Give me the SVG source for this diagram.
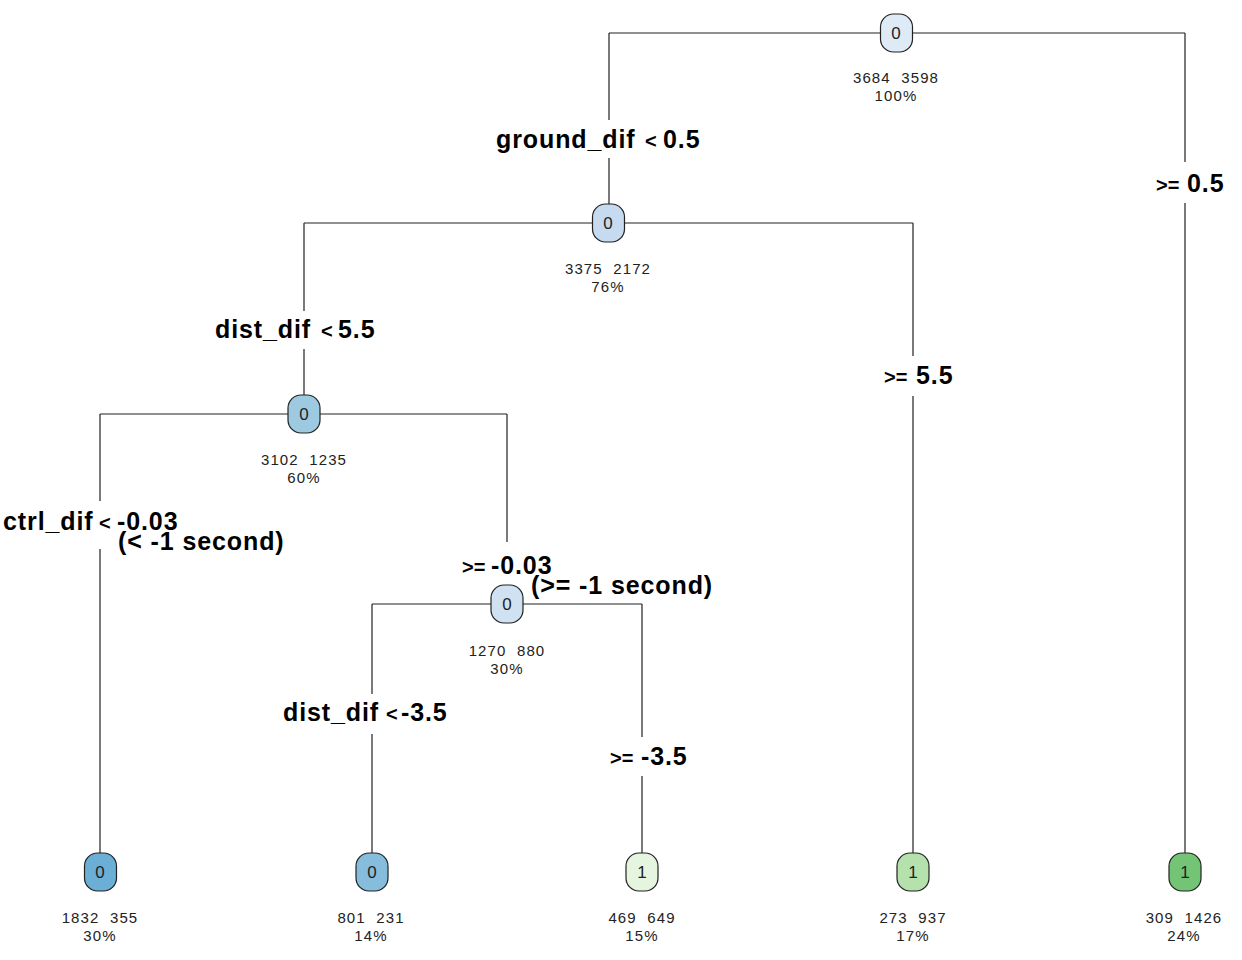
<svg xmlns="http://www.w3.org/2000/svg" width="1242" height="960" viewBox="0 0 1242 960">
<style>
.box{stroke:#222;stroke-width:1.2}
.nl{font-family:"Liberation Sans",Arial,sans-serif;font-size:17px;fill:#222;text-anchor:middle}
.ct{font-family:"Liberation Sans",Arial,sans-serif;font-size:15px;fill:#222;text-anchor:middle;white-space:pre;letter-spacing:1.1px}
.sp{font-family:"Liberation Sans",Arial,sans-serif;font-size:25px;font-weight:bold;fill:#000;letter-spacing:0.9px}
.op{font-size:20px;letter-spacing:0}
.ln{stroke:#222;stroke-width:1.2;fill:none}
</style>
<rect width="1242" height="960" fill="#fff"/>
<g id="connectors">
<path class="ln" d="M609 33H880M912 33H1185M609 33V120M609 158V204M1185 33V162M1185 203V853"/>
<path class="ln" d="M304 223H592M624 223H913M304 223V311M304 349V395M913 223V356M913 396V853"/>
<path class="ln" d="M100 414H288M320 414H507M100 414V501M100 549V853M507 414V542"/>
<path class="ln" d="M372 604H491M523 604H642M372 604V694M372 734V853M642 604V737M642 776V853"/>
</g>
<g id="labels">
<text class="sp" y="148"><tspan x="496">ground_dif</tspan><tspan x="645" class="op">&lt;</tspan><tspan x="663">0.5</tspan></text>
<text class="sp" y="192"><tspan x="1156" class="op">&gt;=</tspan><tspan x="1187">0.5</tspan></text>
<text class="sp" y="338"><tspan x="215">dist_dif</tspan><tspan x="321" class="op">&lt;</tspan><tspan x="338">5.5</tspan></text>
<text class="sp" y="384"><tspan x="884" class="op">&gt;=</tspan><tspan x="916">5.5</tspan></text>
<text class="sp" y="530"><tspan x="3">ctrl_dif</tspan><tspan x="99" class="op">&lt;</tspan><tspan x="117">-0.03</tspan></text>
<text class="sp" x="118" y="550">(&lt; -1 second)</text>
<text class="sp" y="574"><tspan x="462" class="op">&gt;=</tspan><tspan x="491">-0.03</tspan></text>
<text class="sp" x="531" y="594">(&gt;= -1 second)</text>
<text class="sp" y="721"><tspan x="283">dist_dif</tspan><tspan x="386" class="op">&lt;</tspan><tspan x="401">-3.5</tspan></text>
<text class="sp" y="765"><tspan x="610" class="op">&gt;=</tspan><tspan x="641">-3.5</tspan></text>
</g>
<g id="n1"><rect class="box" x="880.5" y="14" width="32" height="38" rx="13" fill="#deebf7"/><text class="nl" x="896" y="39">0</text><text class="ct" x="896" y="83">3684  3598</text><text class="ct" x="896" y="101">100%</text></g>
<g id="n2"><rect class="box" x="592.5" y="204" width="32" height="38" rx="13" fill="#c6dbef"/><text class="nl" x="608" y="229">0</text><text class="ct" x="608" y="274">3375  2172</text><text class="ct" x="608" y="292">76%</text></g>
<g id="n3"><rect class="box" x="288" y="395" width="32" height="38" rx="13" fill="#9ecae1"/><text class="nl" x="304" y="420">0</text><text class="ct" x="304" y="465">3102  1235</text><text class="ct" x="304" y="483">60%</text></g>
<g id="n4"><rect class="box" x="491" y="585" width="32" height="38" rx="13" fill="#d0e1f2"/><text class="nl" x="507" y="610">0</text><text class="ct" x="507" y="656">1270  880</text><text class="ct" x="507" y="674">30%</text></g>
<g id="l1"><rect class="box" x="84.5" y="853" width="32" height="38" rx="13" fill="#6baed6"/><text class="nl" x="100" y="878">0</text><text class="ct" x="100" y="923">1832  355</text><text class="ct" x="100" y="941">30%</text></g>
<g id="l2"><rect class="box" x="356" y="853" width="32" height="38" rx="13" fill="#86bcdc"/><text class="nl" x="372" y="878">0</text><text class="ct" x="371" y="923">801  231</text><text class="ct" x="371" y="941">14%</text></g>
<g id="l3"><rect class="box" x="626" y="853" width="32" height="38" rx="13" fill="#e5f5e0"/><text class="nl" x="642" y="878">1</text><text class="ct" x="642" y="923">469  649</text><text class="ct" x="642" y="941">15%</text></g>
<g id="l4"><rect class="box" x="897" y="853" width="32" height="38" rx="13" fill="#b5e1ad"/><text class="nl" x="913" y="878">1</text><text class="ct" x="913" y="923">273  937</text><text class="ct" x="913" y="941">17%</text></g>
<g id="l5"><rect class="box" x="1169" y="853" width="32" height="38" rx="13" fill="#74c476"/><text class="nl" x="1185" y="878">1</text><text class="ct" x="1184" y="923">309  1426</text><text class="ct" x="1184" y="941">24%</text></g>
</svg>
